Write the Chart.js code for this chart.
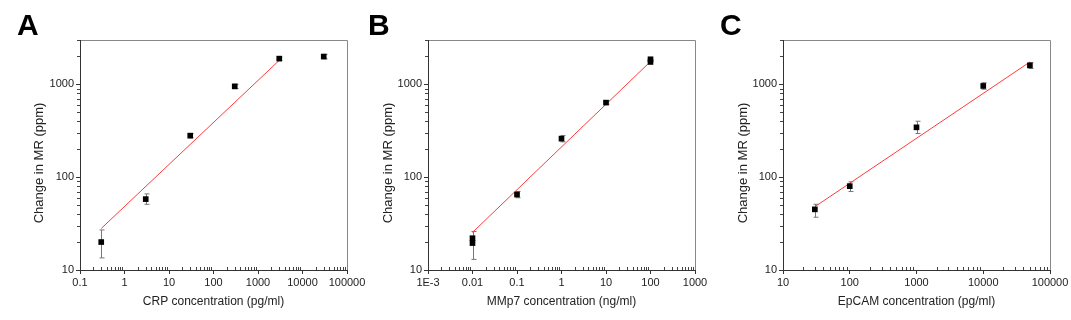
<!DOCTYPE html>
<html lang="en">
<head>
<meta charset="UTF-8">
<title>Change in MR vs concentration</title>
<script src="https://cdn.jsdelivr.net/npm/chart.js"></script>
<style>
  body { margin: 0; background: #fff; width: 1071px; height: 320px; overflow: hidden; position: relative; }
  canvas { position: absolute; top: 0; }
</style>
</head>
<body>
<canvas id="chartA" width="380" height="320" style="left:0px"></canvas>
<canvas id="chartB" width="380" height="320" style="left:357px"></canvas>
<canvas id="chartC" width="366" height="320" style="left:705px"></canvas>
<script>
// shared y axis
const mrTicks = [10, 100, 1000];
const mrTickLabels = ['10', '100', '1000'];
const mrTitle = 'Change in MR (ppm)';

// A - CRP
const crpConc = [0.3, 3, 30, 300, 3000, 30000];
const crpMR = [20, 58, 280, 950, 1890, 1990];
const crpLow = [13.5, 51, 265, 900, 1810, 1880];
const crpHigh = [27, 66, 295, 1000, 1960, 2100];
const crpFitX = [0.3, 3000];
const crpFitY = [28, 1810];
const crpTicks = [0.1, 1, 10, 100, 1000, 10000, 100000];
const crpTickLabels = ['0.1', '1', '10', '100', '1000', '10000', '100000'];

// B - MMp7 (two replicates overlap at 0.01 and 100)
const mmpConc = [0.01, 0.01, 0.1, 1, 10, 100, 100];
const mmpMR = [22, 19.5, 65, 260, 635, 1860, 1740];
const mmpLow = [13, null, 60, 240, 610, null, null];
const mmpHigh = [26, null, 70, 280, 660, null, null];
const mmpFitX = [0.01, 100];
const mmpFitY = [25.4, 1760];
const mmpTicks = [0.001, 0.01, 0.1, 1, 10, 100, 1000];
const mmpTickLabels = ['1E-3', '0.01', '0.1', '1', '10', '100', '1000'];

// C - EpCAM
const epcamConc = [30, 100, 1000, 10000, 50000];
const epcamMR = [45, 80, 344, 960, 1600];
const epcamLow = [37, 70, 295, 885, 1480];
const epcamHigh = [51, 89, 400, 1040, 1710];
const epcamFitX = [30, 50000];
const epcamFitY = [48, 1740];
const epcamTicks = [10, 100, 1000, 10000, 100000];
const epcamTickLabels = ['10', '100', '1000', '10000', '100000'];

const FONT = "Arial, 'Liberation Sans', sans-serif";

function minorValues(ticks) {
  const out = [];
  for (let i = 0; i < ticks.length - 1; i++) {
    for (let k = 2; k <= 9; k++) out.push(ticks[i] * k);
  }
  return out;
}

// error bars, frame, minor ticks, y title and the panel letter
const panelDecor = {
  id: 'panelDecor',
  beforeDatasetsDraw(chart, args, opts) {
    const {ctx, scales: {x, y}} = chart;
    ctx.save();
    ctx.strokeStyle = '#777';
    ctx.lineWidth = 1;
    opts.xs.forEach((xv, i) => {
      if (opts.low[i] == null) return;
      const px = Math.round(x.getPixelForValue(xv)) + 0.5;
      const y1 = y.getPixelForValue(opts.low[i]);
      const y2 = y.getPixelForValue(opts.high[i]);
      ctx.beginPath();
      ctx.moveTo(px, y1); ctx.lineTo(px, y2);
      ctx.moveTo(px - 2, y1); ctx.lineTo(px + 3, y1);
      ctx.moveTo(px - 2, y2); ctx.lineTo(px + 3, y2);
      ctx.stroke();
    });
    ctx.restore();
  },
  afterDraw(chart, args, opts) {
    const {ctx, chartArea: a, scales: {x, y}} = chart;
    ctx.save();
    ctx.lineWidth = 1;
    // minor ticks
    ctx.strokeStyle = '#444';
    ctx.beginPath();
    minorValues(opts.xTicks).forEach(v => {
      const px = Math.round(x.getPixelForValue(v)) + 0.5;
      ctx.moveTo(px, a.bottom); ctx.lineTo(px, a.bottom - 3);
    });
    minorValues(mrTicks.concat([10000])).forEach(v => {
      if (v > y.max) return;
      const py = Math.round(y.getPixelForValue(v)) + 0.5;
      ctx.moveTo(a.left, py); ctx.lineTo(a.left - 3, py);
    });
    ctx.stroke();
    // frame
    ctx.strokeStyle = '#888';
    ctx.beginPath();
    ctx.moveTo(a.left, Math.round(a.top) + 0.5);
    ctx.lineTo(Math.round(a.right) + 0.5, Math.round(a.top) + 0.5);
    ctx.lineTo(Math.round(a.right) + 0.5, a.bottom);
    ctx.stroke();
    ctx.strokeStyle = '#333';
    ctx.beginPath();
    ctx.moveTo(Math.round(a.left) + 0.5, a.top);
    ctx.lineTo(Math.round(a.left) + 0.5, Math.round(a.bottom) + 0.5);
    ctx.lineTo(a.right, Math.round(a.bottom) + 0.5);
    ctx.stroke();
    // y axis title
    ctx.save();
    ctx.translate(opts.yTitleX, 163);
    ctx.rotate(-Math.PI / 2);
    ctx.fillStyle = '#222';
    ctx.font = '13px ' + FONT;
    ctx.textAlign = 'center';
    ctx.textBaseline = 'middle';
    ctx.fillText(mrTitle, 0, 0);
    ctx.restore();
    // panel letter
    ctx.fillStyle = '#000';
    ctx.font = 'bold 30px ' + FONT;
    ctx.textBaseline = 'alphabetic';
    ctx.fillText(opts.letter, opts.letterX, 35);
    ctx.restore();
  }
};

function makePanel(id, o) {
  new Chart(document.getElementById(id), {
    type: 'scatter',
    data: {
      datasets: [
        {
          data: o.xs.map((x, i) => ({x: x, y: o.ys[i]})),
          pointStyle: 'rect',
          pointRadius: 4,
          backgroundColor: '#000',
          borderColor: '#000',
          borderWidth: 0
        },
        {
          data: o.fitX.map((x, i) => ({x: x, y: o.fitY[i]})),
          showLine: true,
          borderColor: '#ff3b3b',
          borderWidth: 1,
          pointRadius: 0
        }
      ]
    },
    options: {
      responsive: false,
      animation: false,
      layout: { padding: { top: 40, right: o.right, left: 0, bottom: 0 } },
      plugins: {
        legend: { display: false },
        tooltip: { enabled: false },
        panelDecor: {
          xs: o.xs, low: o.low, high: o.high,
          xTicks: o.xTicks, letter: o.letter, letterX: o.letterX,
          yTitleX: o.yTitleX
        }
      },
      scales: {
        x: {
          type: 'logarithmic',
          min: o.xTicks[0],
          max: o.xTicks[o.xTicks.length - 1],
          afterBuildTicks: s => { s.ticks = o.xTicks.map(v => ({value: v})); },
          afterFit: s => { s.height = 50; },
          border: { display: false },
          grid: { drawOnChartArea: false, tickLength: 4, color: '#333' },
          ticks: {
            autoSkip: false, maxRotation: 0, padding: 2,
            color: '#222', font: { family: FONT, size: 11 },
            callback: (v, i) => o.xLabels[i]
          },
          title: {
            display: true, text: o.xTitle, color: '#222',
            font: { family: FONT, size: 12 },
            padding: { top: 0, bottom: 11 }
          }
        },
        y: {
          type: 'logarithmic',
          min: 10,
          max: 3000,
          afterBuildTicks: s => { s.ticks = mrTicks.map(v => ({value: v})); },
          afterFit: s => { s.width = o.yWidth; },
          border: { display: false },
          grid: { drawOnChartArea: false, tickLength: 4, color: '#333' },
          ticks: {
            autoSkip: false, padding: 2,
            color: '#222', font: { family: FONT, size: 11 },
            callback: (v, i) => mrTickLabels[i]
          }
        }
      }
    },
    plugins: [panelDecor]
  });
}

makePanel('chartA', {
  xs: crpConc, ys: crpMR, low: crpLow, high: crpHigh,
  fitX: crpFitX, fitY: crpFitY,
  xTicks: crpTicks, xLabels: crpTickLabels,
  xTitle: 'CRP concentration (pg/ml)',
  letter: 'A', letterX: 17, yWidth: 80, right: 33, yTitleX: 39
});

makePanel('chartB', {
  xs: mmpConc, ys: mmpMR, low: mmpLow, high: mmpHigh,
  fitX: mmpFitX, fitY: mmpFitY,
  xTicks: mmpTicks, xLabels: mmpTickLabels,
  xTitle: 'MMp7 concentration (ng/ml)',
  letter: 'B', letterX: 11, yWidth: 71, right: 42, yTitleX: 31
});

makePanel('chartC', {
  xs: epcamConc, ys: epcamMR, low: epcamLow, high: epcamHigh,
  fitX: epcamFitX, fitY: epcamFitY,
  xTicks: epcamTicks, xLabels: epcamTickLabels,
  xTitle: 'EpCAM concentration (pg/ml)',
  letter: 'C', letterX: 15, yWidth: 78, right: 21, yTitleX: 38
});
</script>
</body>
</html>
